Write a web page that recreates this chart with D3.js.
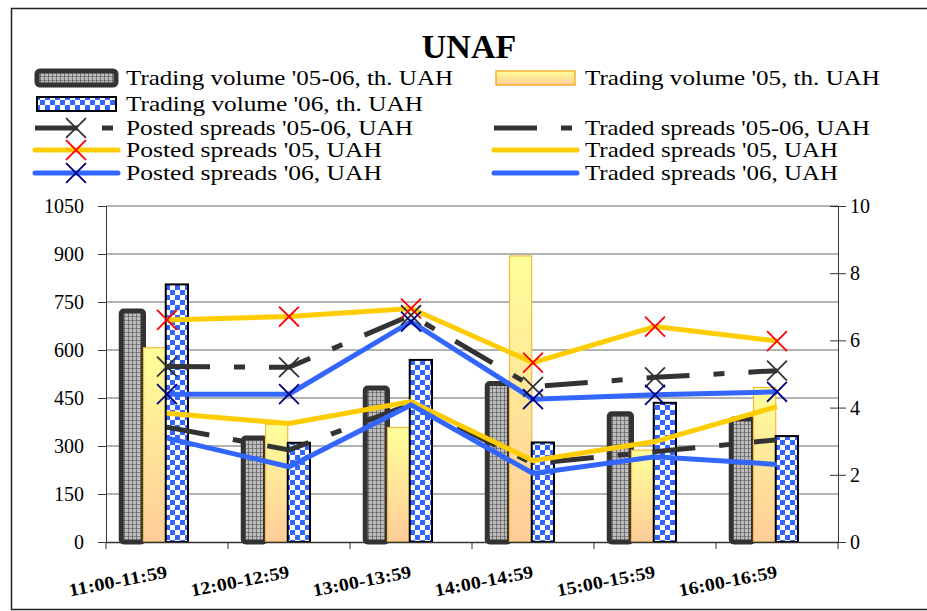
<!DOCTYPE html>
<html>
<head>
<meta charset="utf-8">
<script src="https://cdn.jsdelivr.net/npm/d3@7"></script>
<style>
  body { margin: 0; background: #fff; }
  text { font-family: "Liberation Serif", "Times New Roman", serif; fill: #000; }
</style>
</head>
<body>
<div id="chart"></div>
<script>
// categories and values
let hours = ['11:00-11:59', '12:00-12:59', '13:00-13:59', '14:00-14:59', '15:00-15:59', '16:00-16:59']
let volume0506 = [722, 325, 481, 495, 401, 384]
let volume05 = [607, 368, 358, 894, 287, 483]
let volume06 = [805, 310, 569, 311, 435, 331]
let posted0506 = [5.22, 5.20, 6.75, 4.62, 4.90, 5.10]
let traded0506 = [3.42, 2.74, 4.10, 2.34, 2.69, 3.04]
let posted05 = [6.61, 6.71, 6.95, 5.34, 6.41, 5.98]
let traded05 = [3.83, 3.53, 4.18, 2.42, 2.99, 4.03]
let posted06 = [4.40, 4.40, 6.56, 4.25, 4.38, 4.47]
let traded06 = [3.09, 2.24, 4.08, 2.04, 2.54, 2.31]
let leftTicks = [0, 150, 300, 450, 600, 750, 900, 1050]
let rightTicks = [0, 2, 4, 6, 8, 10]

let W = 927, H = 611
let margin = { left: 106, right: 89, top: 206, bottom: 69 }

let svg = d3.select('#chart').append('svg').attr('width', W).attr('height', H)
let defs = svg.append('defs')

// gray grid pattern for the '05-06 volume bars
let pGrid = defs.append('pattern').attr('id', 'grid').attr('width', 4).attr('height', 4)
  .attr('patternUnits', 'userSpaceOnUse')
pGrid.append('rect').attr('width', 4).attr('height', 4).attr('fill', '#bdbdbd')
pGrid.append('path').attr('d', 'M0,0H4M0,0V4').attr('stroke', '#4a4a4a').attr('stroke-width', 1.2)

// blue checkerboard for '06 volume bars
let pChk = defs.append('pattern').attr('id', 'chk').attr('width', 10).attr('height', 10)
  .attr('patternUnits', 'userSpaceOnUse')
pChk.append('rect').attr('width', 10).attr('height', 10).attr('fill', '#fff')
pChk.append('rect').attr('width', 5).attr('height', 5).attr('fill', '#3366ff')
pChk.append('rect').attr('x', 5).attr('y', 5).attr('width', 5).attr('height', 5).attr('fill', '#3366ff')

// yellow to peach gradient for '05 volume bars
let grad = defs.append('linearGradient').attr('id', 'yel').attr('x1', 0).attr('y1', 0).attr('x2', 0).attr('y2', 1)
grad.append('stop').attr('offset', '0%').attr('stop-color', '#ffff99')
grad.append('stop').attr('offset', '100%').attr('stop-color', '#ffcc99')

// outer frame
svg.append('rect').attr('x', 11.5).attr('y', 8.5).attr('width', 930).attr('height', 601)
  .attr('fill', 'none').attr('stroke', '#222').attr('stroke-width', 1.5)

svg.append('text').attr('x', 469).attr('y', 58).attr('text-anchor', 'middle')
  .style('font-size', '34px').style('font-weight', 'bold').text('UNAF')

let x = d3.scaleBand().domain(hours).range([margin.left, W - margin.right]).padding(0)
let bw = x.bandwidth()
let x1 = d3.scaleBand().domain(['v0506', 'v05', 'v06']).range([bw * 0.125, bw * 0.672])
let yL = d3.scaleLinear().domain([0, 1050]).range([H - margin.bottom, margin.top])
let yR = d3.scaleLinear().domain([0, 10]).range([H - margin.bottom, margin.top])

// gridlines
svg.append('g').selectAll('line').data(leftTicks.slice(1)).join('line')
  .attr('x1', margin.left).attr('x2', W - margin.right)
  .attr('y1', d => yL(d)).attr('y2', d => yL(d))
  .attr('stroke', '#666').attr('stroke-width', 1)

// bars
let barSeries = [
  { key: 'v0506', values: volume0506, fill: 'url(#grid)', stroke: '#333', sw: 5, rx: 2.5 },
  { key: 'v05', values: volume05, fill: 'url(#yel)', stroke: '#f5b840', sw: 1.2, rx: 0 },
  { key: 'v06', values: volume06, fill: 'url(#chk)', stroke: '#000', sw: 2, rx: 0 }
]
barSeries.forEach(s => {
  svg.append('g').selectAll('rect').data(s.values).join('rect')
    .attr('x', (d, i) => x(hours[i]) + x1(s.key))
    .attr('width', x1.bandwidth())
    .attr('y', d => yL(d))
    .attr('height', d => yL(0) - yL(d))
    .attr('rx', s.rx)
    .attr('fill', s.fill).attr('stroke', s.stroke).attr('stroke-width', s.sw)
})

// axes
let yAxisL = d3.axisLeft(yL).tickValues(leftTicks).tickFormat(d3.format('d')).tickSize(8).tickPadding(14)
let gL = svg.append('g').attr('transform', `translate(${margin.left},0)`).call(yAxisL)
gL.selectAll('text').style('font-size', '20px').style('font-family', '"Liberation Serif", serif')
gL.select('.domain').attr('stroke', '#333')
gL.selectAll('.tick line').attr('stroke', '#333')

let yAxisR = d3.axisRight(yR).tickValues(rightTicks).tickFormat(d3.format('d')).tickSize(8).tickPadding(4)
let gR = svg.append('g').attr('transform', `translate(${W - margin.right},0)`).call(yAxisR)
gR.selectAll('.tick line').attr('x1', -8).attr('stroke', '#333')
gR.selectAll('text').style('font-size', '20px').style('font-family', '"Liberation Serif", serif')
gR.select('.domain').attr('stroke', '#333')

let xAxis = d3.axisBottom(x).tickValues([]).tickSizeOuter(0)
let gX = svg.append('g').attr('transform', `translate(0,${yL(0)})`).call(xAxis)
gX.select('.domain').attr('stroke', '#333').attr('stroke-width', 1.5)
svg.append('g').selectAll('line').data(hours.concat(['end'])).join('line')
  .attr('x1', (d, i) => margin.left + i * bw).attr('x2', (d, i) => margin.left + i * bw)
  .attr('y1', yL(0)).attr('y2', yL(0) + 7).attr('stroke', '#333')

svg.append('g').selectAll('text').data(hours).join('text')
  .attr('transform', d => `translate(${x(d) + bw / 2 - 48},${yL(0) + 45}) rotate(-11)`)
  .attr('text-anchor', 'middle')
  .attr('textLength', 100).attr('lengthAdjust', 'spacingAndGlyphs')
  .style('font-size', '18px').style('font-weight', 'bold')
  .text(d => d)

// spread lines
let dash = '43,24,11,24'
let lineSeries = [
  { values: posted0506, color: '#333333', dash: dash, mark: '#333333' },
  { values: traded0506, color: '#333333', dash: dash, mark: null },
  { values: posted05, color: '#ffcc00', dash: null, mark: '#ff0000' },
  { values: traded05, color: '#ffcc00', dash: null, mark: null },
  { values: posted06, color: '#3366ff', dash: null, mark: '#000080' },
  { values: traded06, color: '#3366ff', dash: null, mark: null }
]
let line = d3.line().x((d, i) => x(hours[i]) + bw / 2).y(d => yR(d))
lineSeries.forEach(s => {
  svg.append('path').datum(s.values).attr('d', line)
    .attr('fill', 'none').attr('stroke', s.color).attr('stroke-width', 5)
    .attr('stroke-dasharray', s.dash)
})
let cross = d3.symbol().type(d3.symbolX).size(260)
lineSeries.filter(s => s.mark).forEach(s => {
  svg.append('g').selectAll('path').data(s.values).join('path')
    .attr('transform', (d, i) => `translate(${x(hours[i]) + bw / 2},${yR(d)})`)
    .attr('d', cross).attr('fill', 'none').attr('stroke', s.mark).attr('stroke-width', 1.8)
})

// legend
let legendItems = [
  { label: "Trading volume '05-06, th. UAH", type: 'bar', fill: 'url(#grid)', stroke: '#333', sw: 5, col: 0, row: 0, len: 327 },
  { label: "Trading volume '05, th. UAH", type: 'bar', fill: 'url(#yel)', stroke: '#f5b030', sw: 1.5, col: 1, row: 0, len: 295 },
  { label: "Trading volume '06, th. UAH", type: 'bar', fill: 'url(#chk)', stroke: '#000', sw: 2, col: 0, row: 1, len: 297 },
  { label: "Posted spreads '05-06,  UAH", type: 'line', color: '#333333', dash: dash, mark: '#333333', col: 0, row: 2, len: 287 },
  { label: "Traded spreads '05-06, UAH", type: 'line', color: '#333333', dash: dash, mark: null, col: 1, row: 2, len: 285 },
  { label: "Posted spreads '05,  UAH", type: 'line', color: '#ffcc00', dash: null, mark: '#ff0000', col: 0, row: 3, len: 256 },
  { label: "Traded spreads '05, UAH", type: 'line', color: '#ffcc00', dash: null, mark: null, col: 1, row: 3, len: 253 },
  { label: "Posted spreads '06,  UAH", type: 'line', color: '#3366ff', dash: null, mark: '#000080', col: 0, row: 4, len: 256 },
  { label: "Traded spreads '06, UAH", type: 'line', color: '#3366ff', dash: null, mark: null, col: 1, row: 4, len: 253 }
]
let rowY = [78, 104, 128, 150, 173]
let colX = [35, 494]
let leg = svg.append('g')
legendItems.forEach(d => {
  let x0 = colX[d.col], cy = rowY[d.row]
  if (d.type === 'bar') {
    leg.append('rect').attr('x', x0 + 2).attr('y', cy - 7).attr('width', 79).attr('height', 14)
      .attr('rx', d.sw > 3 ? 3 : 0)
      .attr('fill', d.fill).attr('stroke', d.stroke).attr('stroke-width', d.sw)
  } else {
    leg.append('line').attr('x1', x0).attr('x2', x0 + 83).attr('y1', cy).attr('y2', cy)
      .attr('stroke', d.color).attr('stroke-width', 5).attr('stroke-linecap', d.dash ? 'butt' : 'round')
      .attr('stroke-dasharray', d.dash)
    if (d.mark) {
      leg.append('path').attr('transform', `translate(${x0 + 41},${cy})`)
        .attr('d', cross).attr('fill', 'none').attr('stroke', d.mark).attr('stroke-width', 1.8)
    }
  }
  leg.append('text').attr('x', x0 + 91).attr('y', cy + 7)
    .attr('textLength', d.len).attr('lengthAdjust', 'spacingAndGlyphs')
    .style('font-size', '21px').text(d.label)
})
</script>
</body>
</html>
